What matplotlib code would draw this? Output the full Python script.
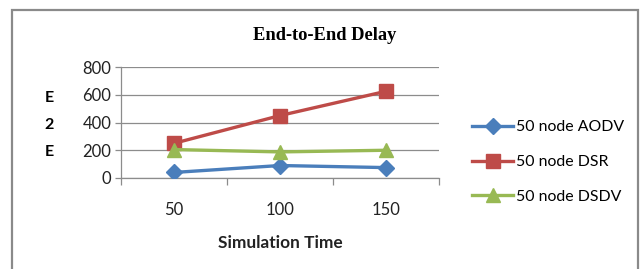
import matplotlib
matplotlib.use('Agg')
import matplotlib.pyplot as plt
from matplotlib.patches import Rectangle

# data
sim_time = ['50', '100', '150']
aodv = [40, 90, 75]
dsr = [250, 450, 625]
dsdv = [205, 188, 200]

plt.rcParams['font.family'] = ['Lato', 'DejaVu Sans']

fig = plt.figure(figsize=(6.41, 2.69), dpi=100)
fig.patch.set_facecolor('white')

# outer frame (no bottom edge visible in the reference)
fig.add_artist(Rectangle((12/641, -0.1), (638-12)/641, 1.1 - 10/269,
                         transform=fig.transFigure, fill=False,
                         edgecolor='#8a8a8a', linewidth=1.6))

ax = fig.add_axes([121/641, 1-178/269, 318/641, 111/269])
x = range(len(sim_time))
ax.plot(x, aodv, color='#4a7ebb', marker='D', markersize=8, lw=2.4, label='50 node AODV', zorder=3)
ax.plot(x, dsr, color='#be4b48', marker='s', markersize=10, lw=2.4, label='50 node DSR', zorder=3)
ax.plot(x, dsdv, color='#98b954', marker='^', markersize=10, lw=2.4, label='50 node DSDV', zorder=3)

ax.set_xlim(-0.5, 2.5)
ax.set_ylim(0, 800)
ax.set_yticks([0, 200, 400, 600, 800])
ax.yaxis.grid(True, color='#8c8c8c', lw=0.9)
ax.set_axisbelow(True)
ax.set_xticks([-0.5, 0.5, 1.5, 2.5])
ax.set_xticklabels([])
ax.set_xticks(list(x), minor=True)
ax.set_xticklabels(sim_time, minor=True)
ax.tick_params(axis='x', which='major', length=5, color='#8c8c8c', width=0.9)
ax.tick_params(axis='x', which='minor', length=0, pad=17, labelsize=12, labelcolor='#222222')
ax.tick_params(axis='y', length=4, color='#8c8c8c', width=0.9, labelsize=12, labelcolor='#222222', pad=3)
for s in ['top', 'right']:
    ax.spines[s].set_visible(False)
for s in ['left', 'bottom']:
    ax.spines[s].set_color('#8c8c8c')
    ax.spines[s].set_linewidth(0.9)

fig.text(325/641, 1-35/269, 'End-to-End Delay', family='Liberation Serif', weight='bold',
         fontsize=13.3, ha='center', va='center')
fig.text(280/641, 1-243/269, 'Simulation Time', weight='bold', fontsize=12.4,
         ha='center', va='center', color='#222222')
for txt, yy in zip(['E', '2', 'E'], [98, 125, 152]):
    fig.text(49/641, 1-yy/269, txt, weight='bold', fontsize=11.5, ha='center', va='center')

ax.legend(loc='center left', bbox_to_anchor=(464/641, 1-162/269), bbox_transform=fig.transFigure,
          frameon=False, fontsize=11.4, handlelength=2.6, handletextpad=0.2,
          labelspacing=1.3, borderpad=0)

fig.savefig('out.png', dpi=100, facecolor='white')
